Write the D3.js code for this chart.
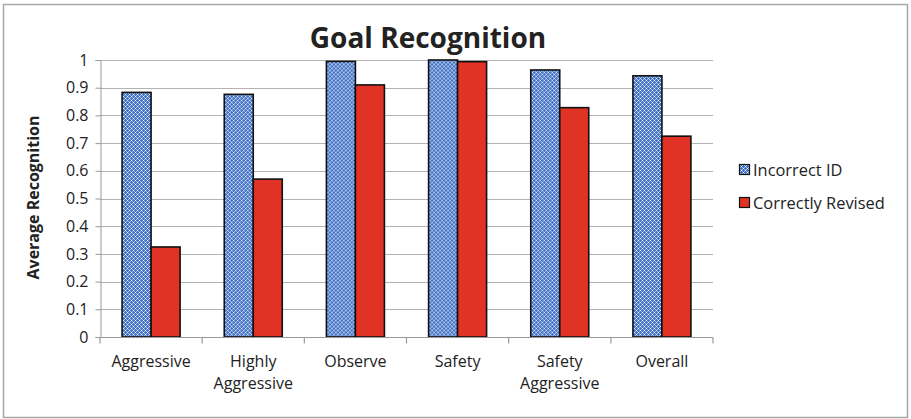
<!DOCTYPE html>
<html>
<head>
<meta charset="utf-8">
<script src="https://cdn.jsdelivr.net/npm/d3@7"></script>
<style>
  html, body { margin: 0; padding: 0; background: #fff; }
  svg { display: block; }
  text { font-family: "Open Sans", "Noto Sans", sans-serif; fill: #222; }
</style>
</head>
<body>
<svg id="chart" width="911" height="419"></svg>
<script>
// Goal recognition results per scenario
const categories = [["Aggressive"], ["Highly", "Aggressive"], ["Observe"], ["Safety"], ["Safety", "Aggressive"], ["Overall"]];
const incorrectID = [0.883, 0.876, 0.995, 1.0, 0.964, 0.943];
const correctlyRevised = [0.325, 0.570, 0.910, 0.994, 0.828, 0.725];
const seriesNames = ["Incorrect ID", "Correctly Revised"];
const yTicks = [0, 0.1, 0.2, 0.3, 0.4, 0.5, 0.6, 0.7, 0.8, 0.9, 1];

const svg = d3.select("#chart");
const plot = { left: 100, right: 713, top: 60, bottom: 337 };

// checked blue fill for the first series
const defs = svg.append("defs");
const pat = defs.append("pattern")
  .attr("id", "check")
  .attr("patternUnits", "userSpaceOnUse")
  .attr("width", 4).attr("height", 4);
pat.append("rect").attr("width", 4).attr("height", 4).attr("fill", "#3f6fc4");
[[0, 0, "#ffffff"], [2, 2, "#ffffff"], [1, 1, "#a9c1ea"], [3, 3, "#a9c1ea"],
 [3, 1, "#a9c1ea"], [1, 3, "#a9c1ea"]].forEach(([px, py, c]) => {
  pat.append("rect").attr("x", px).attr("y", py).attr("width", 1).attr("height", 1).attr("fill", c);
});

const fills = ["url(#check)", "#e03325"];

// outer frame
svg.append("rect")
  .attr("x", 3.5).attr("y", 4.5)
  .attr("width", 904).attr("height", 413)
  .attr("fill", "#fff").attr("stroke", "#a6a6a6").attr("stroke-width", 1.5);

const x = d3.scaleBand()
  .domain(d3.range(categories.length))
  .range([plot.left, plot.right])
  .paddingInner(0).paddingOuter(0);

const y = d3.scaleLinear().domain([0, 1]).range([plot.bottom, plot.top]);

const barW = 29;

// horizontal gridlines
svg.append("g")
  .selectAll("line")
  .data(yTicks.filter(d => d > 0))
  .join("line")
  .attr("x1", plot.left).attr("x2", plot.right)
  .attr("y1", d => Math.round(y(d)) + 0.5).attr("y2", d => Math.round(y(d)) + 0.5)
  .attr("stroke", "#b3b3b3").attr("stroke-width", 1.2);

// y axis
const yAxis = svg.append("g")
  .attr("transform", `translate(${plot.left + 0.5},0)`)
  .call(d3.axisLeft(y).tickValues(yTicks).tickSize(5).tickPadding(7).tickFormat(d3.format("~g")));
yAxis.select(".domain").attr("stroke", "#9a9a9a");
yAxis.selectAll(".tick line").attr("stroke", "#9a9a9a");
yAxis.selectAll(".tick text")
  .attr("font-size", 16).attr("fill", "#222")
  .style("font-family", "'Open Sans', sans-serif");

// bars
const groups = svg.append("g").selectAll("g")
  .data(categories.map((c, i) => i))
  .join("g")
  .attr("transform", i => `translate(${x(i) + x.bandwidth() / 2},0)`);

[incorrectID, correctlyRevised].forEach((vals, s) => {
  groups.append("rect")
    .attr("x", s === 0 ? -barW : 0)
    .attr("y", i => y(vals[i]))
    .attr("width", barW)
    .attr("height", i => y(0) - y(vals[i]))
    .attr("fill", fills[s])
    .attr("stroke", "#111").attr("stroke-width", 1.6);
});

// x axis
const xAxisG = svg.append("g").attr("transform", `translate(0,${plot.bottom + 0.5})`);
xAxisG.append("line")
  .attr("x1", plot.left).attr("x2", plot.right)
  .attr("stroke", "#9a9a9a").attr("stroke-width", 1.2);
xAxisG.selectAll("line.tk")
  .data(d3.range(categories.length + 1))
  .join("line").attr("class", "tk")
  .attr("x1", i => plot.left + i * x.bandwidth()).attr("x2", i => plot.left + i * x.bandwidth())
  .attr("y1", 0).attr("y2", 6)
  .attr("stroke", "#9a9a9a").attr("stroke-width", 1.2);

const labels = xAxisG.selectAll("text.cat")
  .data(categories)
  .join("text").attr("class", "cat")
  .attr("x", (d, i) => x(i) + x.bandwidth() / 2)
  .attr("y", 29)
  .attr("text-anchor", "middle")
  .attr("font-size", 16);
labels.selectAll("tspan")
  .data(d => d)
  .join("tspan")
  .attr("x", function () { return this.parentNode.getAttribute("x"); })
  .attr("dy", (d, j) => j === 0 ? 0 : 22)
  .text(d => d);

// title
svg.append("text")
  .attr("x", 428).attr("y", 48)
  .attr("text-anchor", "middle")
  .attr("font-size", 28).attr("font-weight", "bold")
  .attr("fill", "#111")
  .text("Goal Recognition");

// y axis title
svg.append("text")
  .attr("transform", `translate(39,${(plot.top + plot.bottom) / 2 - 1}) rotate(-90)`)
  .attr("text-anchor", "middle")
  .attr("font-size", 16).attr("font-weight", "bold")
  .text("Average Recognition");

// legend
const legend = svg.append("g").attr("transform", "translate(739,164)");
seriesNames.forEach((name, s) => {
  const g = legend.append("g").attr("transform", `translate(0,${s * 33})`);
  g.append("rect").attr("x", 0.5).attr("y", 0.5).attr("width", 10).attr("height", 10)
    .attr("fill", fills[s]).attr("stroke", "#111").attr("stroke-width", 1.2);
  g.append("text").attr("x", 14).attr("y", 11.5).attr("font-size", 16.4).text(name);
});
</script>
</body>
</html>
